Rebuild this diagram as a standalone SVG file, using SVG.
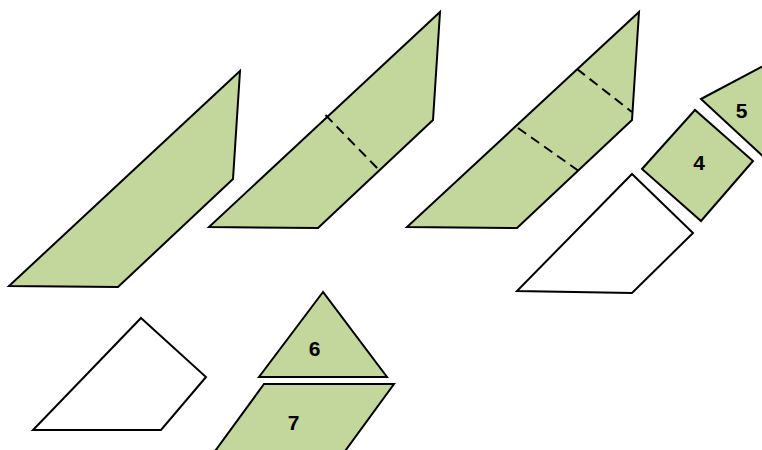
<svg xmlns="http://www.w3.org/2000/svg" width="762" height="450" viewBox="0 0 762 450">
<style>
.g{fill:#C3D69B;stroke:#000;stroke-width:2;stroke-linejoin:miter}
.w{fill:#fff;stroke:#000;stroke-width:2}
.d{stroke:#000;stroke-width:2;stroke-dasharray:10 6;fill:none}
.t{font-family:"Liberation Sans",Arial,sans-serif;font-weight:bold;font-size:21px;text-anchor:middle;fill:#000}
</style>
<rect width="762" height="450" fill="#fff"/>
<g id="piece1"><polygon class="g" points="240,71 233,179 118,287 9,286"/></g>
<g id="piece2"><polygon class="g" points="440,12 433,120 318,228 209,227"/><line class="d" x1="325.5" y1="115" x2="380" y2="171"/></g>
<g id="piece3"><polygon class="g" points="639,12 632,120 517,228 407,227"/><line class="d" x1="577" y1="69" x2="632" y2="112"/><line class="d" x1="518" y1="128" x2="583" y2="174"/></g>
<g id="piece4"><polygon class="g" points="642,169 695,110 753,161 701,221"/><text class="t" x="699" y="170">4</text></g>
<g id="piece5"><polygon class="g" points="701,99 780,57 780,172"/><text class="t" x="741.5" y="117.5">5</text></g>
<g id="piece-white-right"><polygon class="w" points="632,174 693,233 632,293 517,291"/></g>
<g id="piece-white-left"><polygon class="w" points="141,318 206,377 161,430 33,430"/></g>
<g id="piece6"><polygon class="g" points="323,292 259,377 387,377"/><text class="t" x="314.5" y="356">6</text></g>
<g id="piece7"><polygon class="g" points="264,384 394,384 340,458 210,458"/><text class="t" x="293.5" y="430">7</text></g>
<g id="connectors"></g>
</svg>
